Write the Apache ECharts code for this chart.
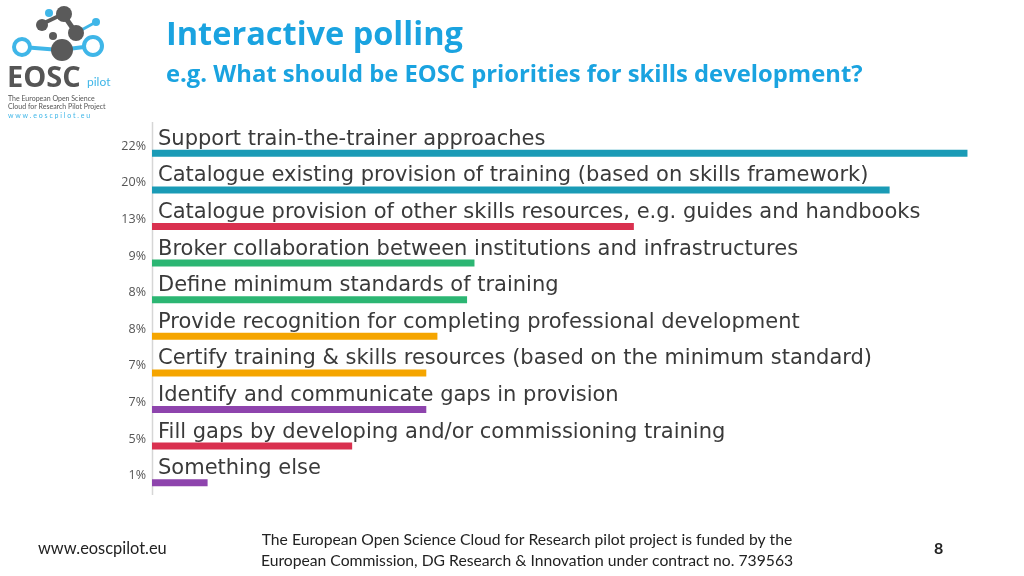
<!DOCTYPE html>
<html><head><meta charset="utf-8">
<script src="https://cdn.jsdelivr.net/npm/echarts@6/dist/echarts.min.js"></script>
<style>html,body{margin:0;padding:0;background:#fff}#c{width:1024px;height:576px}</style>
</head><body><div id="c"></div>
<script>
const categories = [
  "Support train-the-trainer approaches",
  "Catalogue existing provision of training (based on skills framework)",
  "Catalogue provision of other skills resources, e.g. guides and handbooks",
  "Broker collaboration between institutions and infrastructures",
  "Define minimum standards of training",
  "Provide recognition for completing professional development",
  "Certify training & skills resources (based on the minimum standard)",
  "Identify and communicate gaps in provision",
  "Fill gaps by developing and/or commissioning training",
  "Something else"
];
const percentLabels = ["22%","20%","13%","9%","8%","8%","7%","7%","5%","1%"];
const values = [22.0, 19.9, 13.0, 8.7, 8.5, 7.7, 7.4, 7.4, 5.4, 1.5];
const barColors = ["#1a9bb6","#1a9bb6","#d9304f","#2cb673","#2cb673","#f5a500","#f5a500","#8e44ad","#d9304f","#8e44ad"];

const chart = echarts.init(document.getElementById('c'), null, {renderer:'canvas'});
const option = {
  backgroundColor:'#fff',
  animation:false,
  grid:{left:152, right:38, top:135, height:366},
  xAxis:{type:'value', min:0, max:22.5, show:false},
  yAxis:{
    type:'category', data:percentLabels, inverse:true,
    axisLine:{show:false},
    axisTick:{show:false},
    axisLabel:{color:'#555', fontSize:12.5, fontFamily:'Open Sans', margin:6, verticalAlign:'bottom', lineHeight:14}
  },
  series:[{
    type:'bar', barWidth:7,
    data: values.map((v,i)=>({value:v, name:categories[i], itemStyle:{color:barColors[i]}})),
    label:{show:true, position:[6,0], verticalAlign:'bottom', align:'left',
      formatter:(p)=>categories[p.dataIndex],
      color:'#3a3a3a', fontSize:21, fontFamily:'DejaVu Sans'}
  }],
  graphic:[
    {type:'line', shape:{x1:152.5,y1:122,x2:152.5,y2:495}, style:{stroke:'#d6d6d6', lineWidth:1.5}},
    {type:'text', x:166, y:36, style:{text:'Interactive polling', fill:'#1aa3e0', font:'bold 32.5px "Open Sans"', verticalAlign:'middle'}},
    {type:'text', x:166, y:75, style:{text:'e.g. What should be EOSC priorities for skills development?', fill:'#1aa3e0', font:'bold 23.8px "Open Sans"', verticalAlign:'middle'}},
    {type:'text', left:38, top:541, style:{text:'www.eoscpilot.eu', fill:'#222', font:'16.4px Lato'}},
    {type:'text', x:527, y:529, style:{text:'The European Open Science Cloud for Research pilot project is funded by the\nEuropean Commission, DG Research & Innovation under contract no. 739563', fill:'#222', font:'15.7px Lato', align:'center', lineHeight:21}},
    {type:'text', left:934, top:541, style:{text:'8', fill:'#222', font:'bold 16px Lato'}},
    // logo
    {type:'line', shape:{x1:22,y1:47,x2:60,y2:50}, style:{stroke:'#3fb6e8', lineWidth:4}},
    {type:'line', shape:{x1:60,y1:50,x2:92,y2:46}, style:{stroke:'#3fb6e8', lineWidth:4}},
    {type:'line', shape:{x1:63,y1:14,x2:76,y2:33}, style:{stroke:'#5a5a5a', lineWidth:5}},
    {type:'line', shape:{x1:42,y1:24,x2:63,y2:14}, style:{stroke:'#5a5a5a', lineWidth:4}},
    {type:'line', shape:{x1:76,y1:33,x2:96,y2:22}, style:{stroke:'#3fb6e8', lineWidth:3}},
    {type:'circle', shape:{cx:64,cy:14,r:8}, style:{fill:'#5a5a5a'}},
    {type:'circle', shape:{cx:49,cy:13,r:4}, style:{fill:'#3fb6e8'}},
    {type:'circle', shape:{cx:42,cy:25,r:6}, style:{fill:'#5a5a5a'}},
    {type:'circle', shape:{cx:76,cy:33,r:8}, style:{fill:'#5a5a5a'}},
    {type:'circle', shape:{cx:53,cy:36,r:4}, style:{fill:'#5a5a5a'}},
    {type:'circle', shape:{cx:62,cy:50,r:11}, style:{fill:'#5a5a5a'}},
    {type:'circle', shape:{cx:22,cy:47,r:8}, style:{fill:'#fff', stroke:'#3fb6e8', lineWidth:4}},
    {type:'circle', shape:{cx:96,cy:22,r:4}, style:{fill:'#3fb6e8'}},
    {type:'circle', shape:{cx:93,cy:46,r:9}, style:{fill:'#fff', stroke:'#3fb6e8', lineWidth:4}},
    {type:'text', left:7, top:64, style:{text:'EOSC', fill:'#555', font:'bold 29px "Open Sans"'}},
    {type:'text', left:87, top:76, style:{text:'pilot', fill:'#3fb6e8', font:'12px Lato'}},
    {type:'text', left:8, top:95, style:{text:'The European Open Science\nCloud for Research Pilot Project', fill:'#555', font:'7px Lato', lineHeight:8}},
    {type:'text', left:8, top:112, style:{text:'w w w . e o s c p i l o t . e u', fill:'#3fb6e8', font:'7px Lato'}}
  ]
};
chart.setOption(option);
</script></body></html>
